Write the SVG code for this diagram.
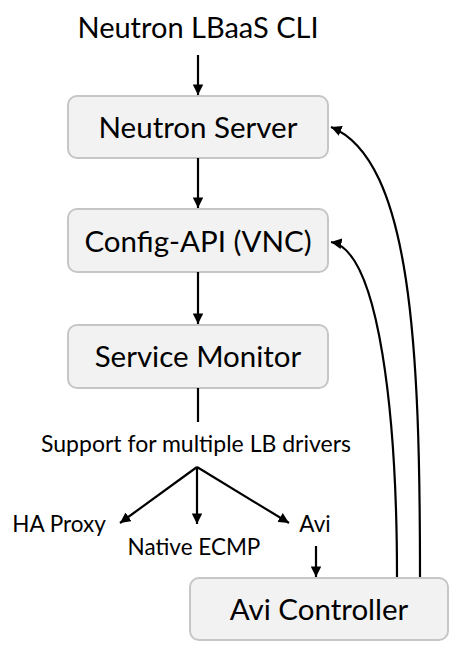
<svg xmlns="http://www.w3.org/2000/svg" width="463" height="660" viewBox="0 0 463 660">
<defs>
<marker id="ah" viewBox="0 0 10 10" refX="10" refY="5" markerWidth="4.8" markerHeight="4.8" orient="auto" markerUnits="strokeWidth">
<path d="M0,0 L10,5 L0,10 Z" fill="#000"/>
</marker>
</defs>
<style>
.box{fill:#f2f2f2;stroke:#c6c6c6;stroke-width:2}
.t{font-family:Lato,"Open Sans","Liberation Sans",sans-serif;fill:#000;text-anchor:middle}
.big{font-size:29.5px}
.sm{font-size:22.5px}
.c{fill:none;stroke:#000;stroke-width:2.2}
.ca{fill:none;stroke:#000;stroke-width:2.2;marker-end:url(#ah)}
</style>
<rect width="463" height="660" fill="#fff"/>
<g id="title"><text class="t" style="font-size:29px" x="198" y="38">Neutron LBaaS CLI</text></g>
<g id="neutron-server"><rect class="box" x="68" y="96" width="260" height="62" rx="9"/><text class="t big" x="198" y="138">Neutron Server</text></g>
<g id="config-api"><rect class="box" x="68" y="209" width="260" height="63" rx="9"/><text class="t big" x="198" y="252">Config-API (VNC)</text></g>
<g id="service-monitor"><rect class="box" x="68" y="325" width="260" height="63" rx="9"/><text class="t big" x="198" y="367">Service Monitor</text></g>
<g id="support"><text class="t" style="font-size:23px" x="196" y="452">Support for multiple LB drivers</text></g>
<g id="ha-proxy"><text class="t sm" x="59" y="532">HA Proxy</text></g>
<g id="native-ecmp"><text class="t sm" x="194" y="555">Native ECMP</text></g>
<g id="avi"><text class="t sm" x="315" y="532">Avi</text></g>
<g id="avi-controller"><rect class="box" x="190" y="578" width="258" height="62" rx="9"/><text class="t big" x="319" y="620">Avi Controller</text></g>
<g id="connectors">
<line class="ca" x1="198" y1="55" x2="198" y2="95"/>
<line class="ca" x1="198" y1="158" x2="198" y2="208"/>
<line class="ca" x1="198" y1="272" x2="198" y2="324"/>
<line class="c" x1="198" y1="388" x2="198" y2="422"/>
<line class="ca" x1="197" y1="467" x2="120" y2="523"/>
<line class="ca" x1="197" y1="467" x2="197" y2="524"/>
<line class="ca" x1="197" y1="467" x2="289" y2="523"/>
<line class="ca" x1="316" y1="546" x2="316" y2="577"/>
<path class="ca" d="M397,577 C397,420 380,250 331,242"/>
<path class="ca" d="M420,577 C420,350 412,160 331,127"/>
</g>
</svg>
